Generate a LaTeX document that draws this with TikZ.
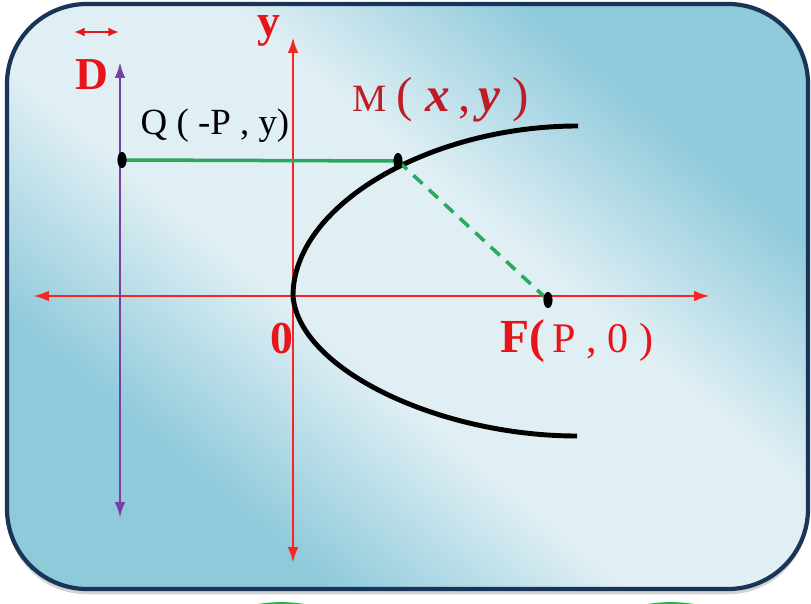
\documentclass[tikz,border=0pt]{standalone}
\usepackage{fontspec}
\setmainfont{Liberation Serif}
\usetikzlibrary{positioning,arrows.meta,shadows}

\definecolor{axisred}{RGB}{250,35,35}
\definecolor{lblred}{RGB}{232,20,25}
\definecolor{mred}{RGB}{192,28,40}
\definecolor{dirpurple}{RGB}{122,62,165}
\definecolor{lgreen}{RGB}{42,168,92}
\definecolor{frameblue}{RGB}{24,52,88}
\definecolor{skydark}{RGB}{143,202,219}
\definecolor{skylight}{RGB}{224,239,244}
\definecolor{ovalgreen}{RGB}{40,178,70}
\definecolor{ovalyellow}{RGB}{240,245,60}

% 背景渐变：中间宽的浅色带
\pgfdeclarehorizontalshading{skyshade}{100bp}{color(0bp)=(skydark); color(30bp)=(skydark);
	color(44bp)=(skylight); color(58bp)=(skylight); color(72bp)=(skydark); color(100bp)=(skydark)}

\tikzset{
  axisline/.style={axisred,line width=1.6pt,{Latex[length=9pt,width=6pt]}-{Latex[length=9pt,width=6pt]}},
  dirline/.style={dirpurple,line width=1.5pt,{Latex[length=9pt,width=6pt]}-{Latex[length=9pt,width=6pt]}},
  curve/.style={black,line width=2.8pt},
  lblbold/.style={lblred,font=\fontsize{26}{26}\selectfont\bfseries,inner sep=0pt},
  ptlbl/.style={black,font=\fontsize{21}{21}\selectfont,inner sep=0pt},
}

\begin{document}
\begin{tikzpicture}[x=0.02cm,y=-0.02cm]
	\useasboundingbox (0,0) rectangle (811,604);
	
	% 底部绿色椭圆（只露出顶部）
	\begin{scope}
		\clip (0,0) rectangle (811,604);
		\filldraw[fill=ovalyellow,draw=ovalgreen,line width=2pt] (281,632) ellipse [x radius=36pt, y radius=16pt];
		\filldraw[fill=ovalyellow,draw=ovalgreen,line width=2pt] (671,632) ellipse [x radius=36pt, y radius=16pt];
	\end{scope}
	
	% 圆角背景框
	\draw[frameblue,line width=2.4pt,rounded corners=1.6cm,
		shading=skyshade,shading angle=50,
		drop shadow={shadow xshift=0pt,shadow yshift=-3pt,opacity=0.35}]
		(7,4) rectangle (808,589);
	
	% 关键点
	\coordinate (O) at (293,296);
	\coordinate (Q) at (122,160);
	\coordinate (M) at (398,161);
	\coordinate (F) at (548,300);
	\coordinate (xl) at (33,296);
	\coordinate (xr) at (710,296);
	\coordinate (yt) at (293,37);
	\coordinate (yb) at (293,563);
	\coordinate (dt) at (120,62);
	\coordinate (db) at (120,518);
	\coordinate (ptop) at (578,126);
	\coordinate (pbot) at (577,436);
	\coordinate (al) at (74,32);
	\coordinate (ar) at (119,32);
	
	% 坐标轴与准线
	\draw[axisline] (xl) -- (xr);
	\draw[axisline] (yb) -- (yt);
	\draw[dirline] (db) -- (dt);
	\draw[lblred,line width=1.2pt,{Latex[length=6pt,width=5pt]}-{Latex[length=6pt,width=5pt]}] (al) -- (ar);
	
	% 抛物线
	\draw[curve] (ptop) .. controls (430,126) and (293,205) .. (O)
		.. controls (299,370) and (440,436) .. (pbot);
	
	% 连线 QM 与 MF
	\draw[lgreen,line width=2pt] (Q) -- (M);
	\draw[lgreen,line width=2pt,dash pattern=on 7pt off 5pt] (M) -- (F);
	
	% 黑点
	\foreach \p in {Q,M,F}
		\fill (\p) ellipse [x radius=2.6pt, y radius=4.6pt];
	
	% 标签
	\node[lblbold] (ylbl) at (269,31) {y};
	\node[lblbold] (dlbl) at (92,75) {D};
	\node[lblbold] (olbl) at (282,339) {0};
	\node[ptlbl] (qlbl) at (215,126) {Q ( -P , y)};
	\node[mred,inner sep=0pt] (mlbl) at (441,100)
		{\fontsize{22}{22}\selectfont M \fontsize{28}{28}\selectfont( \textbf{\textit{x}}\,,\,\textbf{\textit{y}} )};
	\node[lblred,inner sep=0pt] (flbl) at (577,341)
		{\fontsize{27}{27}\selectfont\textbf{F(}\fontsize{24}{24}\selectfont\,P , 0 )};
\end{tikzpicture}
\end{document}
